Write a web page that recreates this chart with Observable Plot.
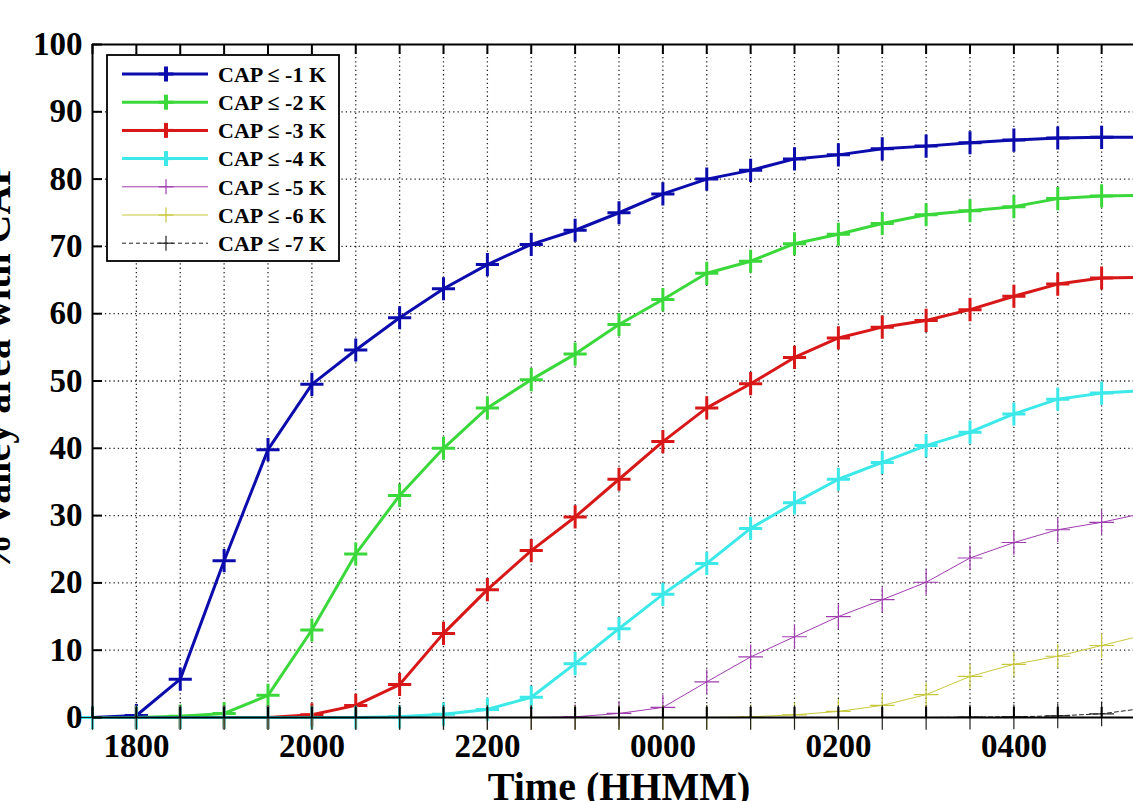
<!DOCTYPE html>
<html><head><meta charset="utf-8">
<script src="https://cdn.jsdelivr.net/npm/d3@7"></script>
<script src="https://cdn.jsdelivr.net/npm/@observablehq/plot@0.6"></script>
<style>
html,body{margin:0;padding:0;overflow:hidden;background:#fff;width:1133px;height:801px;}
#chart{position:relative;width:1150px;height:801px;}
</style></head><body><div id="chart"></div>
<script>
const times = ["1730","1800","1830","1900","1930","2000","2030","2100","2130","2200","2230","2300","2330","0000","0030","0100","0130","0200","0230","0300","0330","0400","0430","0500","0530"];
const xTickLabels = ["1800","2000","2200","0000","0200","0400"];
const yTicks = [0,10,20,30,40,50,60,70,80,90,100];
const seriesNames = ["CAP ≤ -1 K","CAP ≤ -2 K","CAP ≤ -3 K","CAP ≤ -4 K","CAP ≤ -5 K","CAP ≤ -6 K","CAP ≤ -7 K"];
const cap1 = [0,0.3,5.7,23.3,39.8,49.5,54.6,59.4,63.7,67.3,70.3,72.4,75.0,77.8,80.0,81.3,83.0,83.6,84.5,84.9,85.4,85.8,86.1,86.2,86.2];
const cap2 = [0,0,0.2,0.6,3.3,13.0,24.3,33.0,40.0,46.0,50.2,54.0,58.4,62.1,66.0,67.8,70.4,71.8,73.4,74.7,75.3,75.9,77.1,77.5,77.6];
const cap3 = [0,0,0,0,0,0.4,1.8,4.9,12.5,19.0,24.8,29.8,35.4,41.0,46.0,49.6,53.5,56.4,58.0,59.0,60.6,62.6,64.4,65.3,65.4];
const cap4 = [0,0,0,0,0,0,0,0.1,0.5,1.2,3.0,8.0,13.2,18.3,22.9,28.1,31.9,35.4,37.9,40.4,42.4,45.1,47.3,48.2,48.6];
const cap5 = [0,0,0,0,0,0,0,0,0,0,0,0.1,0.6,1.5,5.3,9.0,12.0,15.0,17.5,20.1,23.7,26.0,27.9,29.0,30.4];
const cap6 = [0,0,0,0,0,0,0,0,0,0,0,0,0,0,0,0.1,0.4,0.9,1.8,3.4,6.1,7.9,9.1,10.7,12.3];
const cap7 = [0,0,0,0,0,0,0,0,0,0,0,0,0,0,0,0,0,0,0,0,0.05,0.1,0.25,0.55,1.4];
const xTitle = "Time (HHMM)";
const yTitle = "% valley area with CAP";

const series = [cap1,cap2,cap3,cap4,cap5,cap6,cap7];
const colors = ["#0c0cad","#3ad83a","#d81818","#3ce8e8","#a03cb0","#c8c83c","#222222"];
const widths = [3,3,3,3,1,1,1];
const dashes = [null,null,null,null,null,null,"4,3"];
const markR = [7.5,7.5,7.5,7.5,8,8,8];
const markW = [3,3,3,3,1.2,1.2,1.2];

const toHours = t => { const h = +t.slice(0,2) + (+t.slice(2))/60; return h < 12 ? h + 24 : h; };
const fmt = h => { const hh = Math.floor(h) % 24; const mm = Math.round((h - Math.floor(h))*60); return String(hh).padStart(2,"0") + String(mm).padStart(2,"0"); };

const data = [];
series.forEach((vals, i) => vals.forEach((v, j) => data.push({t: toHours(times[j]), v, s: i})));

const W = 1150, H = 801, ML = 92, MR = 5, MT = 44, MB = 84;
const innerW = W - ML - MR, innerH = H - MT - MB;
const tickHours = times.map(toHours);
const labelHours = xTickLabels.map(toHours);
const font = "'Liberation Serif','Times New Roman',serif";
const x0 = tickHours[0], x1 = tickHours[tickHours.length-1];

const marks = [
  Plot.ruleX(tickHours.slice(1), {stroke:"#000", strokeOpacity:0.85, strokeWidth:1.3, strokeDasharray:"1.3,3"}),
  Plot.ruleY(yTicks.slice(1,-1), {stroke:"#000", strokeOpacity:0.85, strokeWidth:1.3, strokeDasharray:"1.3,3"})
];
series.forEach((vals, i) => {
  const d = data.filter(p => p.s === i);
  marks.push(Plot.line(d, {x:"t", y:"v", stroke:colors[i], strokeWidth:widths[i], strokeDasharray:dashes[i] || undefined}));
  marks.push(Plot.dot(d, {x:"t", y:"v", symbol:"plus", r:markR[i], stroke:colors[i], strokeWidth:markW[i], fill:"none"}));
});
marks.push(
  Plot.ruleX(tickHours, {insetTop: innerH - 10, stroke:"#000", strokeWidth:2}),
  Plot.ruleX(tickHours, {insetBottom: innerH - 10, stroke:"#000", strokeWidth:2}),
  Plot.ruleY(yTicks, {insetRight: innerW - 10, stroke:"#000", strokeWidth:2}),
  Plot.ruleY([0,100], {stroke:"#000", strokeWidth:2}),
  Plot.ruleX([x0], {stroke:"#000", strokeWidth:2}),
  Plot.axisX(labelHours, {tickSize:0, tickPadding:16, tickFormat:fmt, fontSize:33, fontWeight:"bold", label:null, fill:"#000"}),
  Plot.axisY(yTicks, {tickSize:0, tickPadding:10, fontSize:33, fontWeight:"bold", label:null, fill:"#000"}),
  Plot.text([xTitle], {text:d=>d, frameAnchor:"bottom", dy:54, lineAnchor:"top", fontSize:40, fontWeight:"bold", fill:"#000"})
);

const chart = Plot.plot({
  width: W, height: H,
  marginLeft: ML, marginRight: MR, marginTop: MT, marginBottom: MB,
  style: {fontFamily: font, background: "#fff", overflow: "visible"},
  x: {domain: [x0, x1], axis: null},
  y: {domain: [0, 100], axis: null},
  marks
});
document.getElementById("chart").appendChild(chart);

const svg = d3.select(chart);
// Y axis title (rotated)
svg.append("text")
  .attr("transform", `translate(10,${(MT + (H - MB)) / 2 - 13}) rotate(-90)`)
  .attr("text-anchor", "middle").attr("font-family", font)
  .attr("font-size", 40).attr("font-weight", "bold").attr("fill", "#000")
  .text(yTitle);

// Legend
const lg = svg.append("g").attr("font-family", font).attr("text-anchor", "start");
lg.append("rect").attr("x",107).attr("y",55).attr("width",232).attr("height",206)
  .attr("fill","#fff").attr("stroke","#000").attr("stroke-width",1.8);
seriesNames.forEach((name, i) => {
  const yy = 74 + i * 28.2;
  lg.append("line").attr("x1",122).attr("x2",208).attr("y1",yy).attr("y2",yy)
    .attr("stroke",colors[i]).attr("stroke-width",widths[i])
    .attr("stroke-dasharray", dashes[i] || null);
  lg.append("line").attr("x1",166).attr("x2",166).attr("y1",yy-7.5).attr("y2",yy+7.5)
    .attr("stroke",colors[i]).attr("stroke-width",markW[i] + (i < 4 ? 1 : 0));
  lg.append("line").attr("x1",158.5).attr("x2",173.5).attr("y1",yy).attr("y2",yy)
    .attr("stroke",colors[i]).attr("stroke-width",markW[i]);
  lg.append("text").attr("x",218).attr("y",yy).attr("dy","0.35em").attr("text-anchor","start")
    .attr("font-size",22).attr("font-weight","bold").attr("fill","#000").text(name);
});
</script></body></html>
